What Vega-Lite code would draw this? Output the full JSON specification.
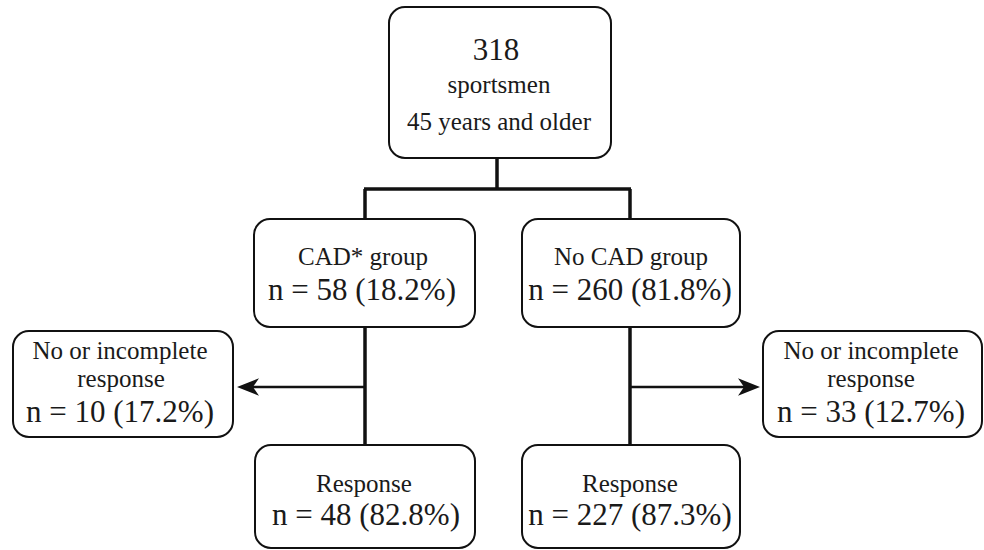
{
  "$schema": "https://vega.github.io/schema/vega-lite/v6.json",
  "autosize": {"type": "fit", "contains": "padding"},
  "width": 984,
  "height": 550,
  "padding": 0,
  "background": "white",
  "view": {"stroke": null},
  "config": {"font": "Liberation Serif"},
  "datasets": {
    "boxes": [
      {"node": "all", "x0": 389, "x1": 611, "y0": 7, "y1": 158},
      {"node": "cad", "x0": 254, "x1": 475, "y0": 219, "y1": 327},
      {"node": "nocad", "x0": 522, "x1": 740, "y0": 219, "y1": 327},
      {"node": "cad_noresp", "x0": 13, "x1": 233, "y0": 331, "y1": 437},
      {"node": "nocad_noresp", "x0": 763, "x1": 982, "y0": 331, "y1": 437},
      {"node": "cad_resp", "x0": 255, "x1": 475, "y0": 445, "y1": 548},
      {"node": "nocad_resp", "x0": 522, "x1": 740, "y0": 445, "y1": 548}
    ],
    "links": [
      {"x0": 497, "y0": 158, "x1": 497, "y1": 189},
      {"x0": 364, "y0": 189, "x1": 631, "y1": 189},
      {"x0": 365, "y0": 189, "x1": 365, "y1": 219},
      {"x0": 630, "y0": 189, "x1": 630, "y1": 219},
      {"x0": 365, "y0": 327, "x1": 365, "y1": 445},
      {"x0": 630, "y0": 327, "x1": 630, "y1": 445}
    ],
    "arrows": [
      {"dir": "left", "x0": 365, "x1": 250, "y": 387, "head": 248},
      {"dir": "right", "x0": 630, "x1": 750, "y": 387, "head": 749}
    ],
    "texts": [
      {"role": "count", "text": "318", "x": 496, "y": 60},
      {"role": "label", "text": "sportsmen", "x": 499, "y": 93},
      {"role": "label", "text": "45 years and older", "x": 499, "y": 130},
      {"role": "label", "text": "CAD* group", "x": 363, "y": 265},
      {"role": "count", "text": "n = 58 (18.2%)", "x": 362, "y": 300},
      {"role": "label", "text": "No CAD group", "x": 631, "y": 265},
      {"role": "count", "text": "n = 260 (81.8%)", "x": 630, "y": 300},
      {"role": "label", "text": "No or incomplete", "x": 120, "y": 359},
      {"role": "label", "text": "response", "x": 121, "y": 387},
      {"role": "count", "text": "n = 10 (17.2%)", "x": 120, "y": 422},
      {"role": "label", "text": "No or incomplete", "x": 871, "y": 359},
      {"role": "label", "text": "response", "x": 871, "y": 387},
      {"role": "count", "text": "n = 33 (12.7%)", "x": 871, "y": 422},
      {"role": "label", "text": "Response", "x": 364, "y": 492},
      {"role": "count", "text": "n = 48 (82.8%)", "x": 366, "y": 525},
      {"role": "label", "text": "Response", "x": 630, "y": 492},
      {"role": "count", "text": "n = 227 (87.3%)", "x": 630, "y": 525}
    ]
  },
  "layer": [
    {
      "data": {"name": "links"},
      "mark": {"type": "rule", "strokeWidth": 3.5, "color": "#111111"},
      "encoding": {
        "x": {"field": "x0", "type": "quantitative", "scale": {"domain": [0, 984], "nice": false, "zero": false}, "axis": null},
        "y": {"field": "y0", "type": "quantitative", "scale": {"domain": [0, 550], "nice": false, "zero": false, "reverse": true}, "axis": null},
        "x2": {"field": "x1"},
        "y2": {"field": "y1"}
      }
    },
    {
      "data": {"name": "arrows"},
      "mark": {"type": "rule", "strokeWidth": 2.5, "color": "#111111"},
      "encoding": {
        "x": {"field": "x0", "type": "quantitative", "scale": {"domain": [0, 984], "nice": false, "zero": false}, "axis": null},
        "y": {"field": "y", "type": "quantitative", "scale": {"domain": [0, 550], "nice": false, "zero": false, "reverse": true}, "axis": null},
        "x2": {"field": "x1"}
      }
    },
    {
      "data": {"name": "arrows"},
      "transform": [{"filter": "datum.dir === 'left'"}],
      "mark": {"type": "point", "filled": true, "color": "#111111", "opacity": 1, "size": 484, "shape": "M-1,0L1,-0.8L0.45,0L1,0.8Z"},
      "encoding": {
        "x": {"field": "head", "type": "quantitative", "scale": {"domain": [0, 984], "nice": false, "zero": false}, "axis": null},
        "y": {"field": "y", "type": "quantitative", "scale": {"domain": [0, 550], "nice": false, "zero": false, "reverse": true}, "axis": null}
      }
    },
    {
      "data": {"name": "arrows"},
      "transform": [{"filter": "datum.dir === 'right'"}],
      "mark": {"type": "point", "filled": true, "color": "#111111", "opacity": 1, "size": 484, "shape": "M1,0L-1,-0.8L-0.45,0L-1,0.8Z"},
      "encoding": {
        "x": {"field": "head", "type": "quantitative", "scale": {"domain": [0, 984], "nice": false, "zero": false}, "axis": null},
        "y": {"field": "y", "type": "quantitative", "scale": {"domain": [0, 550], "nice": false, "zero": false, "reverse": true}, "axis": null}
      }
    },
    {
      "data": {"name": "boxes"},
      "mark": {"type": "rect", "fill": "white", "stroke": "#111111", "strokeWidth": 2, "cornerRadius": 16},
      "encoding": {
        "x": {"field": "x0", "type": "quantitative", "scale": {"domain": [0, 984], "nice": false, "zero": false}, "axis": null},
        "x2": {"field": "x1"},
        "y": {"field": "y0", "type": "quantitative", "scale": {"domain": [0, 550], "nice": false, "zero": false, "reverse": true}, "axis": null},
        "y2": {"field": "y1"}
      }
    },
    {
      "data": {"name": "texts"},
      "transform": [{"filter": "datum.role === 'label'"}],
      "mark": {"type": "text", "font": "Liberation Serif", "fontSize": 25, "align": "center", "baseline": "alphabetic", "color": "#1a1a1a"},
      "encoding": {
        "x": {"field": "x", "type": "quantitative", "scale": {"domain": [0, 984], "nice": false, "zero": false}, "axis": null},
        "y": {"field": "y", "type": "quantitative", "scale": {"domain": [0, 550], "nice": false, "zero": false, "reverse": true}, "axis": null},
        "text": {"field": "text"}
      }
    },
    {
      "data": {"name": "texts"},
      "transform": [{"filter": "datum.role === 'count'"}],
      "mark": {"type": "text", "font": "Liberation Serif", "fontSize": 31, "align": "center", "baseline": "alphabetic", "color": "#1a1a1a"},
      "encoding": {
        "x": {"field": "x", "type": "quantitative", "scale": {"domain": [0, 984], "nice": false, "zero": false}, "axis": null},
        "y": {"field": "y", "type": "quantitative", "scale": {"domain": [0, 550], "nice": false, "zero": false, "reverse": true}, "axis": null},
        "text": {"field": "text"}
      }
    }
  ]
}
